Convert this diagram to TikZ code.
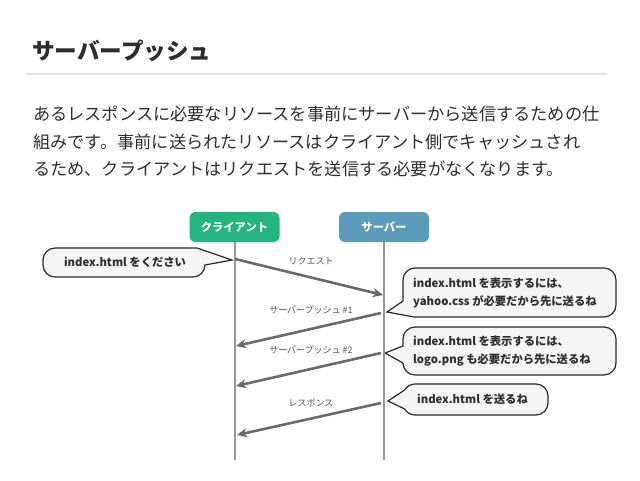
\documentclass[tikz,border=0pt]{standalone}
\usepackage{fontspec}
\setmainfont{Noto Sans CJK JP}
\usetikzlibrary{arrows.meta,backgrounds}
\definecolor{cgreen}{RGB}{36,180,128}
\definecolor{cblue}{RGB}{90,156,186}
\definecolor{ink}{RGB}{45,45,45}
\definecolor{rulegray}{RGB}{222,222,222}
\definecolor{lifegray}{RGB}{150,150,150}
\definecolor{arrowgray}{RGB}{105,105,105}
\definecolor{labelgray}{RGB}{85,85,85}
\definecolor{bfill}{RGB}{245,245,245}
\definecolor{bline}{RGB}{40,40,40}
\tikzset{
  para/.style={anchor=west,inner sep=0pt,text=ink,font=\fontsize{17.2}{20}\selectfont},
  actor/.style={rounded corners=6pt,minimum width=90pt,minimum height=30pt,inner sep=0pt,text=white,font=\bfseries\fontsize{11.3}{12}\selectfont},
  life/.style={draw=lifegray,line width=2pt},
  msg/.style={draw=arrowgray,line width=2.6pt,-{Stealth[length=10pt,width=9pt,inset=3pt]}},
  msglabel/.style={text=labelgray,inner sep=0pt,font=\fontsize{9}{10}\selectfont},
  bubbletext/.style={inner sep=0pt,text=ink,align=left,font=\bfseries\fontsize{11.3}{18}\selectfont},
  bubbleshape/.style={draw=bline,fill=bfill,line width=1.2pt,line join=miter},
}
\begin{document}
\begin{tikzpicture}[x=1pt,y=-1pt]
\useasboundingbox (0,0) rectangle (640,480);

% title
\node[anchor=west,inner sep=0pt,text=ink,font=\bfseries\fontsize{22.6}{26}\selectfont] (title) at (32,51) {サーバープッシュ};
\coordinate (ruleL) at (27,74);
\coordinate (ruleR) at (607,74);
\draw[rulegray,line width=2pt] (ruleL) -- (ruleR);

% paragraph
\node[para] (p1) at (33,114) {あるレスポンスに必要なリソースを事前にサーバーから送信するための仕};
\node[para] (p2) at (33,142) {組みです。事前に送られたリソースはクライアント側でキャッシュされ};
\node[para] (p3) at (33,169) {るため、クライアントはリクエストを送信する必要がなくなります。};

% actors
\node[actor,fill=cgreen] (client) at (234.5,227) {クライアント};
\node[actor,fill=cblue] (server) at (384,227) {サーバー};
\coordinate (cend) at (234.5,460);
\coordinate (send) at (384,460);
\draw[life] (client.south) -- (cend);
\draw[life] (server.south) -- (send);

% messages
\coordinate (m1a) at (235,259);
\coordinate (m1b) at (383,295);
\coordinate (m2a) at (381,313);
\coordinate (m2b) at (236,346);
\coordinate (m3a) at (381,353);
\coordinate (m3b) at (236,386);
\coordinate (m4a) at (381,403);
\coordinate (m4b) at (237,435);
\draw[msg] (m1a) -- (m1b);
\draw[msg] (m2a) -- (m2b);
\draw[msg] (m3a) -- (m3b);
\draw[msg] (m4a) -- (m4b);
\node[msglabel] (l1) at (311,261) {リクエスト};
\node[msglabel] (l2) at (311,310) {サーバープッシュ \#1};
\node[msglabel] (l3) at (311,350) {サーバープッシュ \#2};
\node[msglabel] (l4) at (311,403) {レスポンス};

% bubble texts
\node[bubbletext,align=center] (b1) at (125,262.5) {index.html をください};
\node[bubbletext,anchor=west] (b2) at (413,292.5) {index.html を表示するには、\\yahoo.css が必要だから先に送るね};
\node[bubbletext,anchor=west] (b3) at (413,351) {index.html を表示するには、\\logo.png も必要だから先に送るね};
\node[bubbletext,anchor=west] (b4) at (417,399.5) {index.html を送るね};

\begin{scope}[on background layer]
\fill[white] (0,0) rectangle (640,480);
% bubble 1: tail to the right, toward the client lifeline
\path[bubbleshape]
  (43,260) arc[start angle=180,end angle=270,radius=12] -- (197,248) -- (232,260) -- (205,265)
  arc[start angle=0,end angle=90,radius=12] -- (55,277) arc[start angle=90,end angle=180,radius=12] -- cycle;
% bubble 2
\path[bubbleshape]
  (403,280) arc[start angle=180,end angle=270,radius=12] -- (604,268) arc[start angle=270,end angle=360,radius=12]
  -- (616,305) arc[start angle=0,end angle=90,radius=12] -- (414,317) -- (387,312) -- (403,301) -- cycle;
% bubble 3
\path[bubbleshape]
  (403,339) arc[start angle=180,end angle=270,radius=12] -- (604,327) arc[start angle=270,end angle=360,radius=12]
  -- (616,363) arc[start angle=0,end angle=90,radius=12] -- (415,375) arc[start angle=90,end angle=180,radius=12]
  -- (403,363) -- (385,353) -- (403,346) -- cycle;
% bubble 4
\path[bubbleshape]
  (415,384) -- (536,384) arc[start angle=270,end angle=360,radius=12] -- (548,403)
  arc[start angle=0,end angle=90,radius=12] -- (415,415) arc[start angle=90,end angle=150,radius=12]
  -- (388,401) -- (404.6,390) arc[start angle=210,end angle=270,radius=12] -- cycle;
\end{scope}
\end{tikzpicture}
\end{document}
